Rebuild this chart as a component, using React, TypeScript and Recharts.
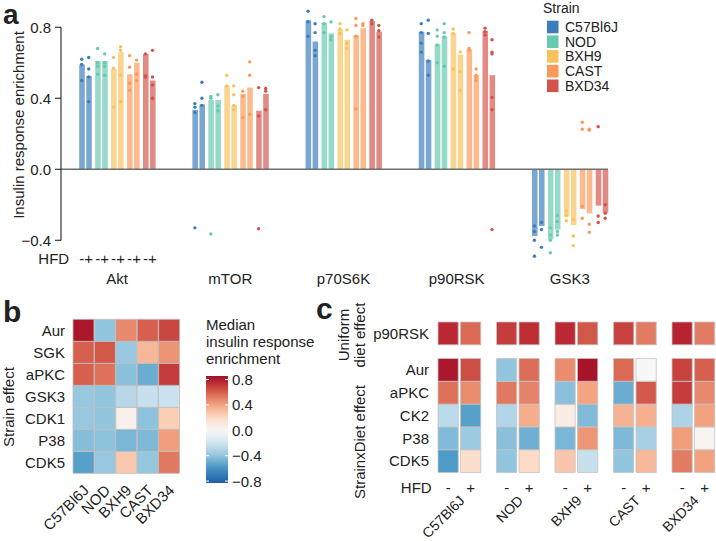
import React from 'react';
import {
  Bar,
  BarChart,
  Cell,
  ComposedChart,
  ReferenceLine,
  Scatter,
  XAxis,
  YAxis,
} from 'recharts';

const markers = ['Akt', 'mTOR', 'p70S6K', 'p90RSK', 'GSK3'];
const strains = ['C57Bl6J', 'NOD', 'BXH9', 'CAST', 'BXD34'];
const strainColors = ['#3b7dbb', '#66c9b0', '#f8c15c', '#fb9a58', '#d4524a'];

// bar order inside each marker: C57Bl6J -, C57Bl6J +, NOD -, NOD +, ...
const aktMeans = [0.59, 0.525, 0.61, 0.61, 0.565, 0.66, 0.535, 0.6, 0.65, 0.5];
const mtorMeans = [0.335, 0.365, 0.39, 0.39, 0.47, 0.36, 0.425, 0.46, 0.33, 0.425];
const p70Means = [0.84, 0.72, 0.825, 0.765, 0.79, 0.73, 0.755, 0.795, 0.835, 0.775];
const p90Means = [0.775, 0.615, 0.705, 0.75, 0.765, 0.645, 0.675, 0.53, 0.78, 0.53];
const gsk3Means = [-0.376, -0.32, -0.395, -0.34, -0.267, -0.315, -0.224, -0.248, -0.205, -0.245];

const aktDots = [
  [0.62, 0.59, 0.5], [0.63, 0.565, 0.52, 0.38], [0.68, 0.6, 0.58, 0.535], [0.65, 0.6, 0.58, 0.53],
  [0.63, 0.57, 0.35], [0.69, 0.67, 0.53, 0.38], [0.64, 0.575, 0.485, 0.445], [0.615, 0.535, 0.5],
  [0.65, 0.525, 0.52], [0.67, 0.52, 0.475, 0.4],
];
const mtorDots = [
  [0.37, 0.35, 0.32, -0.33], [0.49, 0.4, 0.36], [0.41, 0.4, -0.365], [0.42, 0.357, 0.33],
  [0.53, 0.47], [0.47, 0.42, 0.36, 0.335], [0.44, 0.41, 0.29], [0.605, 0.53, 0.31],
  [0.46, 0.3, -0.335], [0.455, 0.44, 0.335],
];
const p70Dots = [
  [0.89, 0.83, 0.75], [0.82, 0.77, 0.67, 0.64], [0.86, 0.82, 0.77], [0.83, 0.75, 0.73],
  [0.82, 0.79, 0.765], [0.785, 0.71, 0.68], [0.85, 0.81, 0.75, 0.34], [0.82, 0.81],
  [0.84, 0.82], [0.81, 0.78, 0.745],
];
const p90Dots = [
  [0.82, 0.77, 0.71, 0.66], [0.84, 0.765, 0.61, 0.53], [0.785, 0.75, 0.7, 0.6], [0.82, 0.77, 0.745, 0.58],
  [0.79, 0.765, 0.565], [0.66, 0.55, 0.445], [0.77, 0.68, 0.67], [0.565, 0.53, 0.52, 0.5],
  [0.795, 0.775, 0.757], [0.73, 0.66, 0.65, 0.405, 0.335, -0.34],
];
const gsk3Dots = [
  [-0.32, -0.35, -0.4, -0.49], [-0.3, -0.34, -0.44], [-0.33, -0.37, -0.4, -0.47], [-0.26, -0.295, -0.35, -0.37],
  [-0.235, -0.26, -0.29], [-0.285, -0.376, -0.43], [-0.21, -0.276, 0.265, 0.225], [-0.31, -0.355, 0.225, 0.22],
  [-0.263, -0.3, 0.24], [-0.2, -0.248, -0.276],
];

const yTicks = [-0.4, 0, 0.4, 0.8];

// panel b: strain effect medians (rows x strains)
const bRows = ['Aur', 'SGK', 'aPKC', 'GSK3', 'CDK1', 'P38', 'CDK5'];
const bValues = [
  [0.82, -0.4, 0.48, 0.6, 0.67],
  [0.6, 0.62, -0.38, 0.33, 0.45],
  [0.6, 0.55, -0.42, -0.5, 0.7],
  [-0.38, -0.4, -0.28, -0.23, -0.22],
  [-0.38, -0.4, 0.05, -0.41, 0.25],
  [-0.43, -0.41, -0.46, -0.45, 0.42],
  [-0.55, -0.38, 0.27, -0.39, 0.53],
];

// panel c: columns C57Bl6J -, C57Bl6J +, NOD -, NOD +, ...
const cRows = ['p90RSK', 'Aur', 'aPKC', 'CK2', 'P38', 'CDK5'];
const cValues = [
  [0.75, 0.57, 0.7, 0.74, 0.75, 0.62, 0.68, 0.52, 0.77, 0.52],
  [0.82, 0.65, -0.4, 0.56, 0.47, 0.83, 0.57, 0.0, 0.68, 0.6],
  [0.55, 0.47, 0.53, 0.5, -0.42, 0.4, -0.5, 0.62, 0.7, 0.48],
  [-0.27, -0.55, -0.3, 0.37, 0.08, -0.44, 0.35, 0.36, -0.31, 0.41],
  [-0.44, -0.37, -0.42, -0.49, -0.46, 0.44, -0.45, -0.33, 0.42, 0.02],
  [-0.57, 0.18, -0.4, 0.2, 0.28, -0.23, -0.4, 0.33, 0.52, 0.41],
];
const diets = ['-', '+'];
const colorbarTicks = [0.8, 0.4, 0, -0.4, -0.8];

const font = '"Liberation Sans", Arial, sans-serif';
const ink = '#222';

const rdbuStops = ['#053061', '#2166ac', '#4393c3', '#92c5de', '#d1e5f0', '#f7f7f7',
  '#fddbc7', '#f4a582', '#d6604d', '#b2182b', '#67001f'];

function rdbu(v: number) {
  const t = Math.max(0, Math.min(1, (v + 1) / 2)) * (rdbuStops.length - 1);
  const i = Math.min(Math.floor(t), rdbuStops.length - 2);
  const f = t - i;
  const a = rdbuStops[i], b = rdbuStops[i + 1];
  const ch = (h: string, k: number) => parseInt(h.slice(1 + 2 * k, 3 + 2 * k), 16);
  const c = [0, 1, 2].map((k) => Math.round(ch(a, k) + (ch(b, k) - ch(a, k)) * f));
  return `rgb(${c[0]},${c[1]},${c[2]})`;
}

const minus = (s: string) => s.replace('-', '\u2212');

// ---------- panel a ----------
const markerMeans = [aktMeans, mtorMeans, p70Means, p90Means, gsk3Means];
const markerDots = [aktDots, mtorDots, p70Dots, p90Dots, gsk3Dots];
const slot = (m: number, k: number) => m * 14.2 + Math.floor(k / 2) * 2 + (k % 2) * 0.88;

const aBars = markerMeans.flatMap((means, m) =>
  means.map((value, k) => ({ pos: slot(m, k), value, strain: Math.floor(k / 2) })),
);
const aDots = markerDots.flatMap((dots, m) =>
  dots.flatMap((vals, k) => vals.map((v) => ({ pos: slot(m, k), v, strain: Math.floor(k / 2) }))),
);
const hfdTicks = aktMeans.map((_, k) => slot(0, k));
const markerTicks = markers.map((_, m) => (slot(m, 0) + slot(m, 9)) / 2);
const xMinA = -2.6;
const xMaxA = slot(4, 9) + 0.35;

function ATick({ x, y, payload }: any) {
  const v = payload.value;
  const k = hfdTicks.findIndex((t) => Math.abs(t - v) < 1e-6);
  if (k >= 0) {
    return (
      <g fontSize={15} fill={ink} fontFamily={font} textAnchor="middle">
        {k === 0 && <text x={x - 28} y={y + 6}>HFD</text>}
        <text x={x} y={y + 6}>{diets[k % 2]}</text>
      </g>
    );
  }
  const m = markerTicks.findIndex((t) => Math.abs(t - v) < 1e-6);
  return (
    <text x={x} y={y + 26} fontSize={15} fill={ink} fontFamily={font} textAnchor="middle">
      {markers[m]}
    </text>
  );
}

function PanelA() {
  return (
    <ComposedChart
      width={612}
      height={290}
      data={aBars}
      margin={{ top: 9.5, right: 4, bottom: 2, left: 0 }}
    >
      <XAxis
        dataKey="pos"
        type="number"
        domain={[xMinA, xMaxA]}
        ticks={[...hfdTicks, ...markerTicks]}
        interval={0}
        tick={<ATick />}
        tickSize={0}
        tickMargin={0}
        axisLine={false}
        tickLine={false}
        height={30}
      />
      <YAxis
        type="number"
        domain={[-0.5, 0.9]}
        ticks={yTicks}
        interval={0}
        width={61}
        tickSize={6}
        tickMargin={4}
        axisLine={false}
        tickLine={{ stroke: '#111' }}
        tickFormatter={(v: number) => minus(v.toFixed(1))}
        tick={{ fontSize: 15, fill: ink, fontFamily: font }}
      />
      <Bar dataKey="value" barSize={5.6} isAnimationActive={false}>
        {aBars.map((d, i) => (
          <Cell key={i} fill={strainColors[d.strain]} fillOpacity={0.68} />
        ))}
      </Bar>
      <ReferenceLine y={0} stroke="#6e6e6e" strokeWidth={1.5} />
      <ReferenceLine
        segment={[{ x: xMinA, y: -0.4 }, { x: xMinA, y: 0.8 }]}
        stroke="#111"
        strokeWidth={1}
      />
      <Scatter
        data={aDots}
        dataKey="v"
        isAnimationActive={false}
        shape={(p: any) => (
          <circle cx={p.cx} cy={p.cy} r={1.7} fill={strainColors[p.payload.strain]} />
        )}
      />
    </ComposedChart>
  );
}

// ---------- panel b ----------
const bData = strains.map((strain) => {
  const row: Record<string, any> = { strain };
  bRows.forEach((_, j) => { row[`r${j}`] = 1; });
  return row;
});
const bLevelTicks = bRows.map((_, j) => j + 0.5);

function BTick({ x, y, payload }: any) {
  const px = x + 6;
  const py = y + 18;
  return (
    <text x={px} y={py} transform={`rotate(-45 ${px} ${py})`} textAnchor="end"
      fontSize={15} fill={ink} fontFamily={font}>
      {payload.value}
    </text>
  );
}

function PanelB() {
  return (
    <BarChart
      width={190}
      height={245}
      data={bData}
      barCategoryGap={0}
      margin={{ top: 29.3, right: 10, bottom: 1.7, left: 0 }}
    >
      <XAxis dataKey="strain" type="category" interval={0} tick={<BTick />}
        tickSize={0} tickMargin={0} axisLine={false} tickLine={false} height={60} />
      <YAxis type="number" domain={[0, 7]} ticks={bLevelTicks} width={73} interval={0}
        tickSize={0} tickMargin={8} axisLine={false} tickLine={false}
        tickFormatter={(v: number) => bRows[bRows.length - 1 - Math.floor(v)]}
        tick={{ fontSize: 15, fill: ink, fontFamily: font }} />
      {bRows.map((_, j) => (
        <Bar key={j} dataKey={`r${j}`} stackId="h" isAnimationActive={false}>
          {strains.map((s, i) => (
            <Cell key={s} fill={rdbu(bValues[bRows.length - 1 - j][i])}
              stroke="#bdbdbd" strokeWidth={0.8} />
          ))}
        </Bar>
      ))}
    </BarChart>
  );
}

// ---------- panel c ----------
const cPos = (s: number, d: number) => s * 2.6 + d;
const cData = strains.flatMap((strain, s) =>
  diets.map((diet, d) => ({
    pos: cPos(s, d), strain, diet,
    k0: 1, k1: 1, k2: 1, k3: 1, k4: 1, gap: 0.6, top: 1,
  })),
);
const cColTicks = cData.map((r) => r.pos);
const cStrainTicks = strains.map((_, s) => cPos(s, 0.5));
const cLevelKeys = ['k0', 'k1', 'k2', 'k3', 'k4'];
const cLevelTicks = [0.5, 1.5, 2.5, 3.5, 4.5, 6.1];

function CTick({ x, y, payload }: any) {
  const v = payload.value;
  const k = cColTicks.findIndex((t) => Math.abs(t - v) < 1e-6);
  if (k >= 0) {
    return (
      <g fontSize={15} fill={ink} fontFamily={font} textAnchor="middle">
        {k === 0 && <text x={x - 32} y={y + 20}>HFD</text>}
        <text x={x} y={y + 20}>{diets[k % 2]}</text>
      </g>
    );
  }
  const s = cStrainTicks.findIndex((t) => Math.abs(t - v) < 1e-6);
  const px = x + 6;
  const py = y + 29;
  return (
    <text x={px} y={py} transform={`rotate(-45 ${px} ${py})`} textAnchor="end"
      fontSize={14} fill={ink} fontFamily={font}>
      {strains[s]}
    </text>
  );
}

function PanelC() {
  return (
    <BarChart
      width={356}
      height={250}
      data={cData}
      margin={{ top: 32, right: 0, bottom: 7.5, left: 0 }}
    >
      <XAxis dataKey="pos" type="number" domain={[-0.5, cPos(4, 1) + 0.5]}
        ticks={[...cColTicks, ...cStrainTicks]} interval={0} tick={<CTick />}
        tickSize={0} tickMargin={0} axisLine={false} tickLine={false} height={60} />
      <YAxis type="number" domain={[0, 6.6]} ticks={cLevelTicks} width={77} interval={0}
        tickSize={0} tickMargin={8} axisLine={false} tickLine={false}
        tickFormatter={(v: number) => (v > 6 ? cRows[0] : cRows[cRows.length - 1 - Math.floor(v)])}
        tick={{ fontSize: 15, fill: ink, fontFamily: font }} />
      {cLevelKeys.map((key, j) => (
        <Bar key={key} dataKey={key} stackId="h" barSize={22.5} isAnimationActive={false}>
          {cData.map((_, i) => (
            <Cell key={i} fill={rdbu(cValues[cRows.length - 1 - j][i])}
              stroke="#c4c4c4" strokeWidth={0.8} />
          ))}
        </Bar>
      ))}
      <Bar dataKey="gap" stackId="h" barSize={22.5} fill="none" isAnimationActive={false} />
      <Bar dataKey="top" stackId="h" barSize={22.5} isAnimationActive={false}>
        {cData.map((_, i) => (
          <Cell key={i} fill={rdbu(cValues[0][i])} stroke="#c4c4c4" strokeWidth={0.8} />
        ))}
      </Bar>
    </BarChart>
  );
}

// ---------- free text, legend, colorbar ----------
const cbTop = 376;
const cbBottom = 483;
const cbMax = 0.855;
const cbMin = -0.83;
const cbY = (v: number) => cbTop + ((cbMax - v) / (cbMax - cbMin)) * (cbBottom - cbTop);

function Overlay() {
  const stops = Array.from({ length: 21 }, (_, i) => cbMax - (i / 20) * (cbMax - cbMin));
  return (
    <svg width={716} height={541} style={{ position: 'absolute', left: 0, top: 0, pointerEvents: 'none' }}
      fontFamily={font} fill={ink}>
      <defs>
        <linearGradient id="cb" x1="0" y1="0" x2="0" y2="1">
          {stops.map((v, i) => (
            <stop key={i} offset={`${(i / 20) * 100}%`} stopColor={rdbu(v)} />
          ))}
        </linearGradient>
      </defs>
      <text x={3} y={24} fontSize={28} fontWeight="bold">a</text>
      <text x={3} y={322} fontSize={30} fontWeight="bold">b</text>
      <text x={316} y={319} fontSize={30} fontWeight="bold">c</text>

      <text x={18} y={125} fontSize={15} textAnchor="middle" dominantBaseline="central"
        transform="rotate(-90 18 125)">Insulin response enrichment</text>
      <text x={8} y={407} fontSize={15} textAnchor="middle" dominantBaseline="central"
        transform="rotate(-90 8 407)">Strain effect</text>
      <text x={343} y={335} fontSize={15} textAnchor="middle" dominantBaseline="central"
        transform="rotate(-90 343 335)">Uniform</text>
      <text x={359} y={335} fontSize={15} textAnchor="middle" dominantBaseline="central"
        transform="rotate(-90 359 335)">diet effect</text>
      <text x={359} y={442} fontSize={15} textAnchor="middle" dominantBaseline="central"
        transform="rotate(-90 359 442)">StrainxDiet effect</text>

      <text x={543} y={13} fontSize={14}>Strain</text>
      {strains.map((s, i) => (
        <g key={s}>
          <rect x={547} y={20.7 + i * 14.7} width={11.5} height={12.6} fill={strainColors[i]} />
          <text x={565} y={32 + i * 14.7} fontSize={14}>{s}</text>
        </g>
      ))}

      <text x={206} y={330} fontSize={15}>Median</text>
      <text x={206} y={347} fontSize={15}>insulin response</text>
      <text x={206} y={364} fontSize={15}>enrichment</text>
      <rect x={206} y={cbTop} width={22} height={cbBottom - cbTop} fill="url(#cb)" />
      {colorbarTicks.map((v) => (
        <g key={v}>
          <line x1={206} x2={209} y1={cbY(v)} y2={cbY(v)} stroke="#fff" strokeWidth={1} />
          <line x1={225} x2={228} y1={cbY(v)} y2={cbY(v)} stroke="#fff" strokeWidth={1} />
          <text x={232} y={cbY(v)} fontSize={15} dominantBaseline="central">
            {minus(v.toFixed(1))}
          </text>
        </g>
      ))}
    </svg>
  );
}

export default function App() {
  return (
    <div style={{ position: 'relative', width: 716, height: 541, background: '#fff', fontFamily: font }}>
      <style>{'body{margin:0}'}</style>
      <div style={{ position: 'absolute', left: 0, top: 0 }}>
        <PanelA />
      </div>
      <div style={{ position: 'absolute', left: 0, top: 290 }}>
        <PanelB />
      </div>
      <div style={{ position: 'absolute', left: 360, top: 290 }}>
        <PanelC />
      </div>
      <Overlay />
    </div>
  );
}
